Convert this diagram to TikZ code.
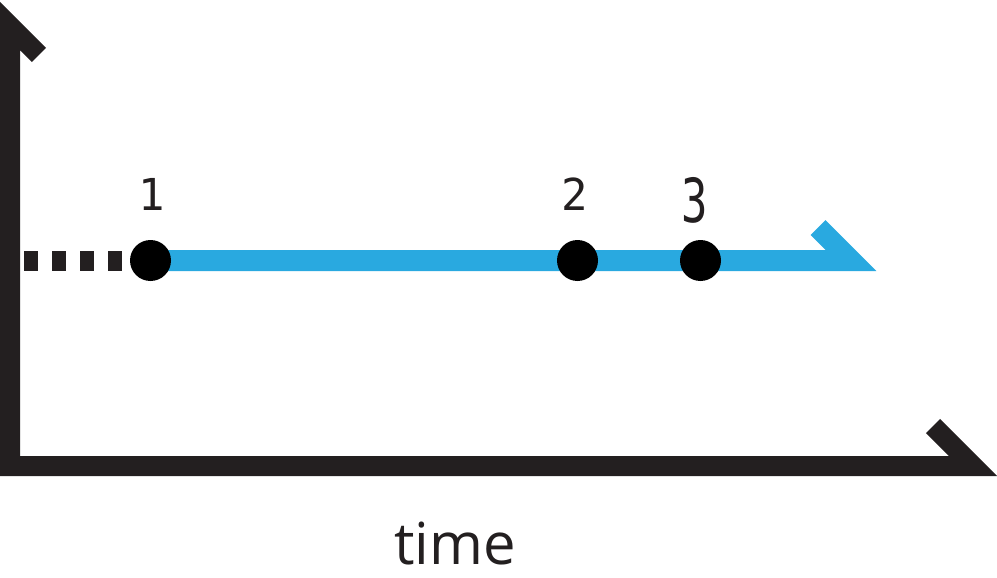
\documentclass[tikz,border=0pt]{standalone}
\usepackage{fontspec}
\setmainfont{Open Sans}
\setmonofont{DejaVu Sans Mono}
\usetikzlibrary{backgrounds}
\definecolor{achse}{HTML}{231F20}
\definecolor{zeitblau}{HTML}{29A9E0}
\begin{document}
\begin{tikzpicture}[x=1pt, y=-1pt,
  punkt/.style={circle, fill=black, inner sep=0pt, minimum size=41pt},
  zahl/.style={font=\ttfamily\fontsize{44}{44}\selectfont, text=achse, inner sep=0pt}]
  \useasboundingbox (0,0) rectangle (997,578);
  % Achsen mit halben Pfeilspitzen
  \coordinate (ursprung) at (10,466);
  \draw[achse, line width=20pt, miter limit=10] (39,55) -- (10,26) -- (ursprung) -- (973,466) -- (933,426);
  % Zeitpunkte auf der Linie
  \node[punkt] (p1) at (150.5,260.5) {};
  \node[punkt] (p2) at (577.5,260.5) {};
  \node[punkt] (p3) at (700.5,260.5) {};
  % Nummern ueber den Punkten
  \node[zahl] (l1) at (152,194.5) {1};
  \node[zahl] (l2) at (575,194) {2};
  \node[zahl] (l3) at (695,200.5) {\scalebox{1}[1.38]{3}};
  % blaue Zeitlinie (hinter den Punkten)
  \begin{scope}[on background layer]
    \coordinate (spitze) at (851,260.5);
    \draw[zeitblau, line width=21pt, miter limit=10] (p1.center) -- (spitze) -- (818,227.5);
  \end{scope}
  % gestrichelter Vorlauf
  \coordinate (vorlauf) at (24,260.5);
  \draw[achse, line width=20pt, dash pattern=on 14pt off 14pt] (vorlauf) -- (p1.west);
  % Achsenbeschriftung
  \node[font=\fontsize{58}{58}\selectfont, text=achse, anchor=base, inner sep=0pt] (zeit) at (455,564) {time};
\end{tikzpicture}
\end{document}
